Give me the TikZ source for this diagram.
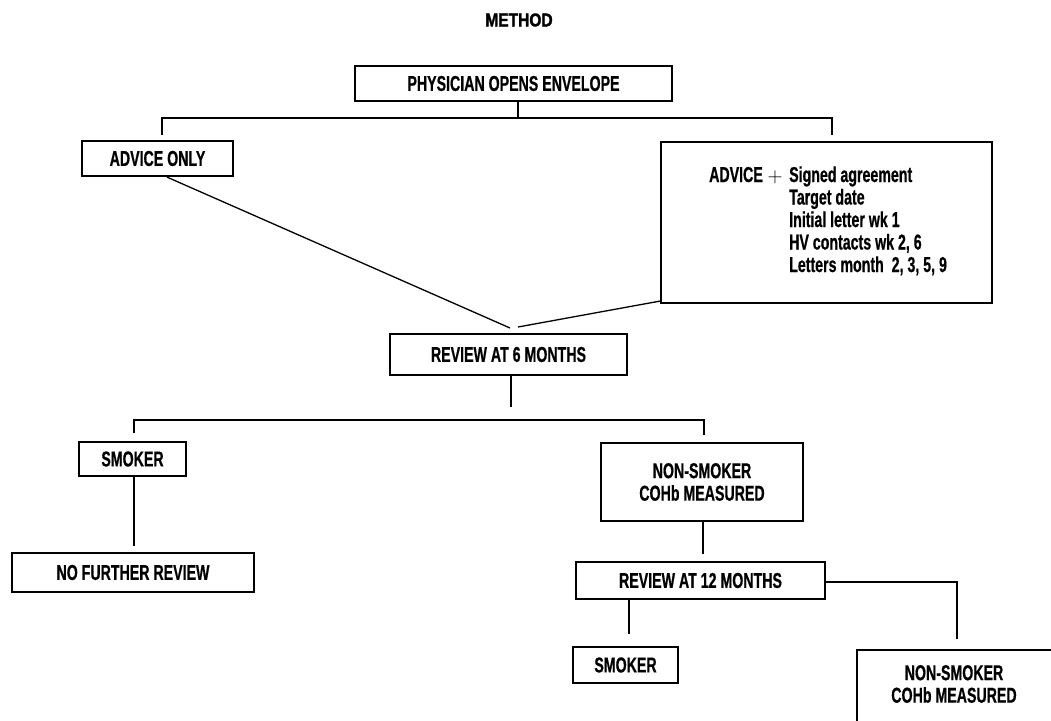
\documentclass[tikz,border=0pt]{standalone}
\usepackage{fontspec}
\setmainfont{Liberation Sans}[FakeStretch=0.66, BoldFeatures={FakeBold=0.6}]
\newfontfamily\titlefont{Liberation Sans}[FakeStretch=0.84, BoldFeatures={FakeBold=1.6}]
\usetikzlibrary{calc}
\tikzset{
  boxnode/.style={draw, line width=2.2pt, inner sep=0pt, align=center,
    font=\fontsize{21.5}{22.5}\selectfont\bfseries},
  txt/.style={inner sep=0pt, font=\fontsize{21.5}{22.5}\selectfont\bfseries},
  conn/.style={line width=1.3pt}
}
\begin{document}
\begin{tikzpicture}[x=1pt,y=-1pt]
\useasboundingbox (0,0) rectangle (1051,720);
\clip (0,0) rectangle (1051,720);
\fill[white] (0,0) rectangle (1051,720);

% title
\node[inner sep=0pt, font=\titlefont\fontsize{18.5}{20}\selectfont\bfseries] (title) at (519,20) {METHOD};

% boxes
\node[boxnode, minimum width=317pt, minimum height=35pt] (phys) at (513.5,83.5) {PHYSICIAN OPENS ENVELOPE};
\node[boxnode, minimum width=151pt, minimum height=35pt] (advonly) at (157.5,158.5) {ADVICE ONLY};
\node[boxnode, minimum width=331pt, minimum height=161pt] (advplus) at (826.5,222.5) {};
\node[txt, anchor=base west] (advtxt) at (709,182) {ADVICE};
\node[inner sep=0pt, anchor=base, font=\fontsize{20}{22.5}\selectfont] (plus) at (775,182) {$+$};
\node[txt, anchor=base west] (list) at (789,182) {\begin{tabular}[t]{@{}l@{}}Signed agreement\\Target date\\Initial letter wk 1\\HV contacts wk 2, 6\\Letters month \ 2, 3, 5, 9\end{tabular}};

\node[boxnode, minimum width=237pt, minimum height=41pt] (rev6) at (508.5,354.5) {REVIEW AT 6 MONTHS};
\node[boxnode, minimum width=107pt, minimum height=34pt] (smoke1) at (132.5,459) {SMOKER};
\node[boxnode, minimum width=242pt, minimum height=39pt] (nofurther) at (133,572.5) {NO FURTHER REVIEW};
\node[boxnode, minimum width=202pt, minimum height=78pt] (nonsm1) at (702,482) {NON-SMOKER\\COHb MEASURED};
\node[boxnode, minimum width=249pt, minimum height=37pt] (rev12) at (700.5,580.5) {REVIEW AT 12 MONTHS};
\node[boxnode, minimum width=105pt, minimum height=36pt] (smoke2) at (625.5,665) {SMOKER};
\node[boxnode, minimum width=210pt, minimum height=90pt] (nonsm2) at (962,695) {};
\node[txt, align=center] (nonsm2t) at (954,684) {NON-SMOKER\\COHb MEASURED};

% connector points
\coordinate (b1) at (518,118);
\coordinate (b1l) at (162,118);
\coordinate (b1r) at (832,118);
\coordinate (b1le) at (162,135);
\coordinate (b1re) at (832,135);
\coordinate (m6l) at (510,328);
\coordinate (m6r) at (518,327);
\coordinate (s6) at (511,407);
\coordinate (b2l) at (134,420);
\coordinate (b2r) at (704,420);
\coordinate (b2le) at (134,433);
\coordinate (b2re) at (704,435);
\coordinate (s1e) at (134,546);
\coordinate (n1e) at (703,554);
\coordinate (r12le) at (629,634);
\coordinate (r12c) at (957,582);
\coordinate (r12re) at (957,639);

% connectors
\draw[conn] (phys.south -| b1) -- (b1);
\draw[conn] (b1le) -- (b1l) -- (b1r) -- (b1re);
\draw[conn] ($(advonly.south)+(9.5,0)$) -- (m6l);
\draw[conn] (m6r) -- ($(advplus.south west)+(0,-3)$);
\draw[conn] (rev6.south -| s6) -- (s6);
\draw[conn] (b2le) -- (b2l) -- (b2r) -- (b2re);
\draw[conn] (smoke1.south -| s1e) -- (s1e);
\draw[conn] (nonsm1.south -| n1e) -- (n1e);
\draw[conn] (rev12.south -| r12le) -- (r12le);
\draw[conn] (rev12.east |- r12c) -- (r12c) -- (r12re);
\end{tikzpicture}
\end{document}
